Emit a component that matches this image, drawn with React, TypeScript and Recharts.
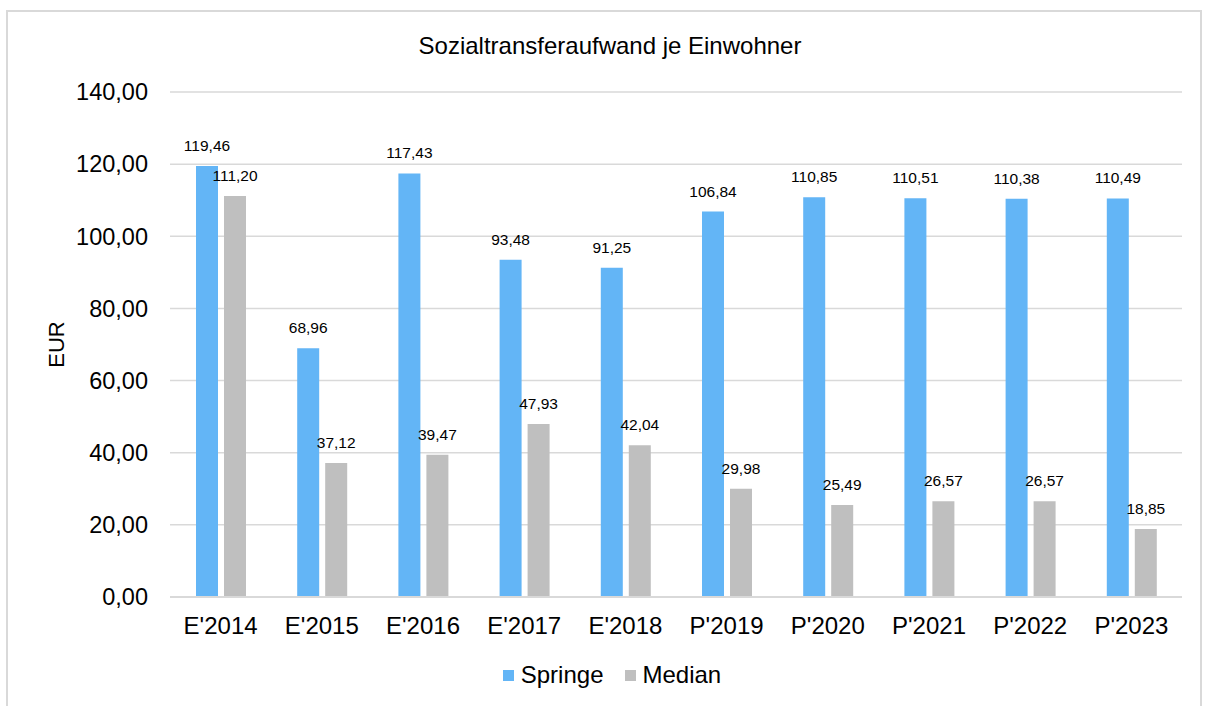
import { BarChart, Bar, XAxis, YAxis, CartesianGrid, LabelList } from 'recharts';

const years = ["E'2014", "E'2015", "E'2016", "E'2017", "E'2018", "P'2019", "P'2020", "P'2021", "P'2022", "P'2023"];
const springe = [119.46, 68.96, 117.43, 93.48, 91.25, 106.84, 110.85, 110.51, 110.38, 110.49];
const median = [111.2, 37.12, 39.47, 47.93, 42.04, 29.98, 25.49, 26.57, 26.57, 18.85];
const yTicks = [0, 20, 40, 60, 80, 100, 120, 140];

const BLUE = '#63b5f6';
const GRAY = '#bfbfbf';
const FONT = '"Liberation Sans", Arial, sans-serif';

const fmt = (v: number) => v.toFixed(2).replace('.', ',');

export default function App() {
  const chartData = years.map((year, i) => ({
    year,
    Springe: springe[i],
    Median: median[i],
  }));

  return (
    <div style={{ position: 'absolute', left: 0, top: 0, width: 1205, height: 706, background: '#fff', fontFamily: FONT }}>
      {/* frame */}
      <div
        style={{
          position: 'absolute',
          left: 6,
          top: 10,
          width: 1192,
          height: 710,
          border: '2px solid #d9d9d9',
        }}
      />
      <div
        style={{
          position: 'absolute',
          top: 32,
          left: 0,
          width: 1220,
          textAlign: 'center',
          fontSize: 24,
          color: '#000',
        }}
      >
        Sozialtransferaufwand je Einwohner
      </div>

      <BarChart
        width={1205}
        height={706}
        data={chartData}
        margin={{ top: 92, right: 23, bottom: 69, left: 40 }}
        barCategoryGap="25%"
        barGap={6}
        style={{ position: 'absolute', left: 0, top: 0 }}
      >
        <CartesianGrid vertical={false} stroke="#d9d9d9" strokeWidth={1.5} />
        <XAxis
          dataKey="year"
          height={40}
          tickLine={false}
          axisLine={{ stroke: '#d9d9d9', strokeWidth: 2 }}
          tick={{ fill: '#000', fontSize: 24, fontFamily: FONT }}
          tickMargin={14}
        />
        <YAxis
          width={130}
          domain={[0, 140]}
          ticks={yTicks}
          tickFormatter={fmt}
          axisLine={false}
          tickLine={false}
          tickSize={0}
          tickMargin={22}
          tick={{ fill: '#000', fontSize: 23.5, fontFamily: FONT }}
          label={{
            value: 'EUR',
            angle: -90,
            position: 'insideLeft',
            offset: 16,
            style: { textAnchor: 'middle', fontSize: 22, fill: '#000', fontFamily: FONT },
          }}
        />
        <Bar dataKey="Springe" fill={BLUE} barSize={22} isAnimationActive={false}>
          <LabelList dataKey="Springe" position="top" offset={15} formatter={(v: any) => fmt(Number(v))} style={{ fontSize: 15.5, fill: '#000', fontFamily: FONT }} />
        </Bar>
        <Bar dataKey="Median" fill={GRAY} barSize={22} isAnimationActive={false}>
          <LabelList dataKey="Median" position="top" offset={15} formatter={(v: any) => fmt(Number(v))} style={{ fontSize: 15.5, fill: '#000', fontFamily: FONT }} />
        </Bar>
      </BarChart>

      {/* Legend */}
      <div
        style={{
          position: 'absolute',
          top: 661,
          left: 0,
          width: 1224,
          display: 'flex',
          justifyContent: 'center',
          gap: 21,
          fontSize: 24,
          color: '#000',
        }}
      >
        {[
          { name: 'Springe', color: BLUE },
          { name: 'Median', color: GRAY },
        ].map((s) => (
          <div key={s.name} style={{ display: 'flex', alignItems: 'center', gap: 7 }}>
            <div style={{ width: 11, height: 11, background: s.color }} />
            <span>{s.name}</span>
          </div>
        ))}
      </div>
    </div>
  );
}
